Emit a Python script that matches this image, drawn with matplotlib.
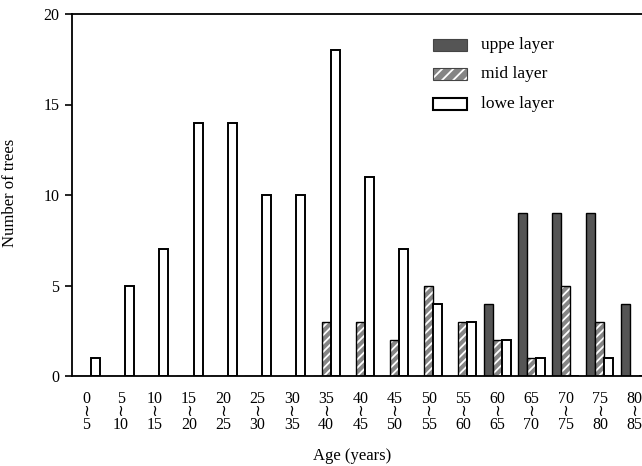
import matplotlib
matplotlib.use("Agg")
import matplotlib.pyplot as plt
from matplotlib.patches import Rectangle
import numpy as np

plt.rcParams['font.family'] = ['Liberation Serif', 'DejaVu Serif', 'DejaVu Sans']
plt.rcParams['hatch.linewidth'] = 1.3

# Age classes (years)
class_starts = [0, 5, 10, 15, 20, 25, 30, 35, 40, 45, 50, 55, 60, 65, 70, 75, 80]
class_ends = [5, 10, 15, 20, 25, 30, 35, 40, 45, 50, 55, 60, 65, 70, 75, 80, 85]

# Number of trees per age class for each canopy layer
upper_layer = [0, 0, 0, 0, 0, 0, 0, 0, 0, 0, 0, 0, 4, 9, 9, 9, 4]
mid_layer = [0, 0, 0, 0, 0, 0, 0, 3, 3, 2, 5, 3, 2, 1, 5, 3, 0]
lower_layer = [1, 5, 7, 14, 14, 10, 10, 18, 11, 7, 4, 3, 2, 1, 0, 1, 0]

layer_names = ['uppe layer', 'mid layer', 'lowe layer']
tick_labels = [f"{a}\n≀\n{b}" for a, b in zip(class_starts, class_ends)]

W, H = 642, 466
fig = plt.figure(figsize=(W / 100, H / 100), dpi=100)
ax = fig.add_axes([72 / W, 1 - 376 / H, (W - 72) / W, (376 - 14) / H])

x = np.arange(len(class_starts))
bw = 0.263

upper_col = '#555555'
mid_col = '#858585'

ax.bar(x - bw, upper_layer, bw, color=upper_col, edgecolor='black', linewidth=1.0)
# mid layer: grey fill with light diagonal hatching, black outline drawn on top
ax.bar(x, mid_layer, bw, color=mid_col, edgecolor='white', hatch='////', linewidth=0)
ax.bar(x, mid_layer, bw, color='none', edgecolor='black', linewidth=1.0)
ax.bar(x + bw, lower_layer, bw, color='white', edgecolor='black', linewidth=1.4)

ax.set_xlim(-0.42, 16.23)
ax.set_ylim(0, 20)
ax.set_yticks([0, 5, 10, 15, 20])
ax.set_yticklabels(['0', '5', '10', '15', '20'], fontsize=11.5)
ax.set_xticks(x)
ax.set_xticklabels(tick_labels, fontsize=11.5, linespacing=0.72)
ax.tick_params(axis='x', length=0, pad=11)
ax.tick_params(axis='y', direction='out', length=5, width=1.2, pad=4)

ax.spines['right'].set_visible(False)
for s in ('left', 'top', 'bottom'):
    ax.spines[s].set_linewidth(1.3)

ax.set_xlabel('Age (years)', fontsize=12)
ax.xaxis.set_label_coords((352 - 72) / (W - 72), -(448 - 376) / (376 - 14))
ax.set_ylabel('Number of trees', fontsize=12)
ax.yaxis.set_label_coords(-(72 - 18) / (W - 72), (376 - 193) / (376 - 14))

# key for the three layers
rows_y = [45, 74, 104]
for i, (name, yc) in enumerate(zip(layer_names, rows_y)):
    x0, x1 = 433, 467
    h = 11
    rect_kw = dict(transform=fig.transFigure, clip_on=False)
    xy = (x0 / W, 1 - (yc + h / 2) / H)
    wh = ((x1 - x0) / W, h / H)
    if i == 0:
        fig.patches.append(Rectangle(xy, *wh, facecolor=upper_col, edgecolor='#444444',
                                     linewidth=0.8, **rect_kw))
    elif i == 1:
        fig.patches.append(Rectangle(xy, *wh, facecolor=mid_col, edgecolor='white',
                                     hatch='///', linewidth=0, **rect_kw))
        fig.patches.append(Rectangle(xy, *wh, facecolor='none', edgecolor='#444444',
                                     linewidth=0.8, **rect_kw))
    else:
        fig.patches.append(Rectangle(xy, *wh, facecolor='white', edgecolor='black',
                                     linewidth=1.5, **rect_kw))
    fig.text(481 / W, 1 - yc / H, name, fontsize=12.5, va='center', ha='left')

fig.savefig('out.png', dpi=100)
